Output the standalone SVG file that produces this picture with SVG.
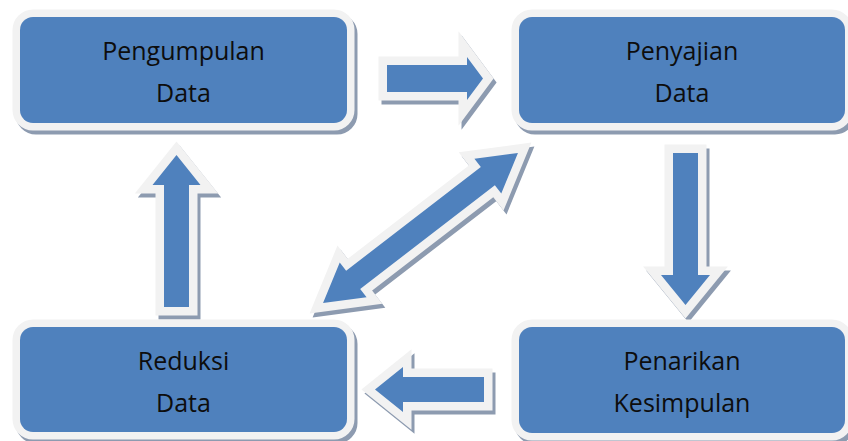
<svg xmlns="http://www.w3.org/2000/svg" xmlns:xlink="http://www.w3.org/1999/xlink" width="848" height="441" viewBox="0 0 848 441">
<style>
.bsh{fill:#8d9bb0;stroke:#8d9bb0;stroke-width:15}
.blt{fill:#f2f2f2;stroke:#f2f2f2;stroke-width:15}
.bbl{fill:#4f81bd}
.ash{fill:#8d9bb0;stroke:#8d9bb0;stroke-width:17;stroke-linejoin:miter;stroke-miterlimit:6}
.alt{fill:#f2f2f2;stroke:#f2f2f2;stroke-width:17;stroke-linejoin:miter;stroke-miterlimit:6}
.abl{fill:#4f81bd}
text{font-family:"Open Sans","Liberation Sans",sans-serif;font-size:25px;fill:#0d0d0d;text-anchor:middle}
</style>
<defs>
<path id="aRight" d="M387,65 H467 V57 L483,78.5 L467,100 V92 H387 Z"/>
<path id="aLeft" d="M484,377 V402 H403 V412 L375,389.5 L403,367 V377 Z"/>
<path id="aDown" d="M673,153 H698 V275 H710 L685.5,305 L661,275 H673 Z"/>
<path id="aUp" d="M164,307 V185 H152.5 L176.5,155 L200.5,185 H189 V307 Z"/>
<path id="aDiag" transform="translate(420.5,228) rotate(-37.6)" d="M-123,0 L-85,-22 L-85,-11.5 L85,-11.5 L85,-22 L123,0 L85,22 L85,11.5 L-85,11.5 L-85,22 Z"/>
</defs>
<rect width="848" height="441" fill="#ffffff"/>
<g id="connectors">
<g transform="translate(3,4)">
<use xlink:href="#aRight" class="ash"/>
<use xlink:href="#aLeft" class="ash"/>
<use xlink:href="#aDown" class="ash"/>
<use xlink:href="#aUp" class="ash"/>
<use xlink:href="#aDiag" class="ash"/>
</g>
<use xlink:href="#aRight" class="alt"/>
<use xlink:href="#aLeft" class="alt"/>
<use xlink:href="#aDown" class="alt"/>
<use xlink:href="#aUp" class="alt"/>
<use xlink:href="#aDiag" class="alt"/>
<use xlink:href="#aRight" class="abl"/>
<use xlink:href="#aLeft" class="abl"/>
<use xlink:href="#aDown" class="abl"/>
<use xlink:href="#aUp" class="abl"/>
<use xlink:href="#aDiag" class="abl"/>
</g>
<g id="pengumpulan">
<rect class="bsh" x="23" y="21" width="327" height="106" rx="13"/>
<rect class="blt" x="20" y="17" width="327" height="106" rx="13"/>
<rect class="bbl" x="20" y="17" width="327" height="106" rx="13"/>
<text x="183.5" y="60">Pengumpulan</text>
<text x="183.5" y="102">Data</text>
</g>
<g id="penyajian">
<rect class="bsh" x="522" y="21" width="326" height="106" rx="13"/>
<rect class="blt" x="519" y="17" width="326" height="106" rx="13"/>
<rect class="bbl" x="519" y="17" width="326" height="106" rx="13"/>
<text x="682" y="60">Penyajian</text>
<text x="682" y="102">Data</text>
</g>
<g id="reduksi">
<rect class="bsh" x="23" y="331" width="327" height="105" rx="13"/>
<rect class="blt" x="20" y="327" width="327" height="105" rx="13"/>
<rect class="bbl" x="20" y="327" width="327" height="105" rx="13"/>
<text x="183.5" y="370">Reduksi</text>
<text x="183.5" y="412">Data</text>
</g>
<g id="penarikan">
<rect class="bsh" x="522" y="331" width="326" height="106" rx="13"/>
<rect class="blt" x="519" y="327" width="326" height="106" rx="13"/>
<rect class="bbl" x="519" y="327" width="326" height="106" rx="13"/>
<text x="682" y="370">Penarikan</text>
<text x="682" y="412">Kesimpulan</text>
</g>
</svg>
